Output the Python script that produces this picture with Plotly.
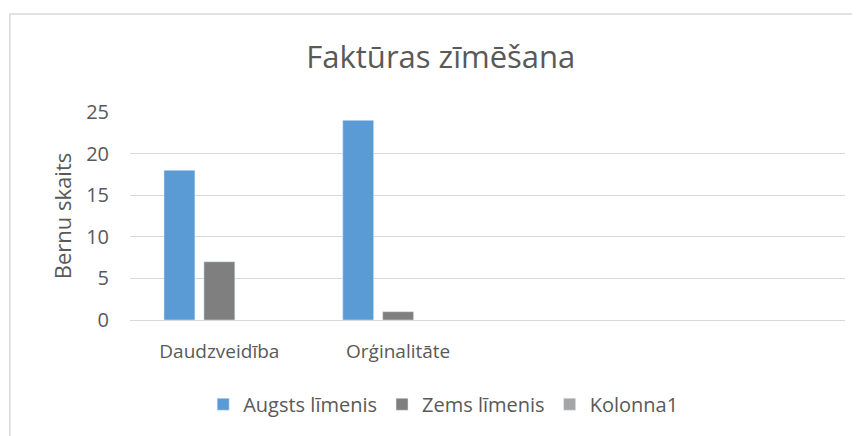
import plotly.graph_objects as go

categories = ["Daudzveidība", "Orģinalitāte", " ", "  "]
augsts = [18, 24, None, None]
zems = [7, 1, None, None]
kolonna1 = [None, None, None, None]

series = [
    ("Augsts līmenis", augsts, "#5B9BD5"),
    ("Zems līmenis", zems, "#7F7F7F"),
    ("Kolonna1", kolonna1, "#A5A5A5"),
]

TEXT = "#595959"
GRID = "#D9D9D9"
FONT = "Open Sans"

fig = go.Figure()
for name, values, color in series:
    fig.add_trace(go.Bar(x=categories, y=values, name=name, marker_color=color))

# the page body has an 8px margin, so the figure is shrunk and laid out 8px up/left
fig.update_layout(
    width=852,
    height=428,
    margin=dict(l=122, r=15, t=104, b=114),
    paper_bgcolor="white",
    plot_bgcolor="white",
    font=dict(family=FONT, color=TEXT, size=19),
    barmode="group",
    bargap=0.33,
    bargroupgap=0.225,
    title=dict(
        text="Faktūras zīmēšana",
        font=dict(size=31, color=TEXT),
        x=0.508,
        xanchor="center",
        y=0.8855,
        yanchor="middle",
    ),
    showlegend=True,
    legend=dict(
        orientation="h",
        x=0.438,
        xanchor="center",
        y=-0.405,
        yanchor="middle",
        font=dict(size=20, color=TEXT),
        traceorder="normal",
    ),
    xaxis=dict(
        type="category",
        showgrid=False,
        showline=False,
        ticks="",
        ticklabelstandoff=18,
        tickfont=dict(size=19),
    ),
    yaxis=dict(
        range=[0, 25],
        dtick=5,
        showgrid=True,
        gridcolor=GRID,
        gridwidth=1.3,
        zeroline=True,
        zerolinecolor=GRID,
        zerolinewidth=1.3,
        showline=False,
        ticks="",
        ticklabelstandoff=20,
        tickfont=dict(size=20),
        title=dict(text="Bernu skaits", font=dict(size=22), standoff=8),
    ),
    shapes=[
        dict(
            type="rect",
            xref="paper",
            yref="paper",
            x0=-0.168,
            x1=1.2,
            y0=-1.0,
            y1=1.471,
            line=dict(color=GRID, width=1.5),
            fillcolor="rgba(0,0,0,0)",
            layer="below",
        )
    ],
)

fig.write_html("out.html")
